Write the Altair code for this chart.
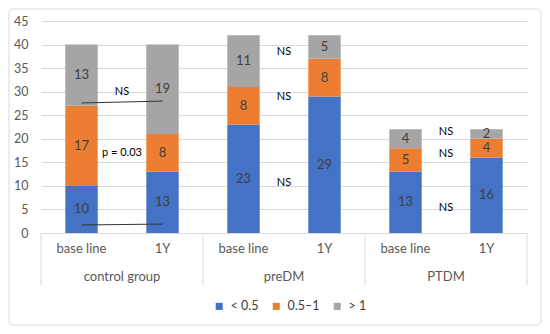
import altair as alt
import pandas as pd

groups = ["control group", "control group", "preDM", "preDM", "PTDM", "PTDM"]
times = ["base line", "1Y", "base line", "1Y", "base line", "1Y"]
lt05 = [10, 13, 23, 29, 13, 16]
mid = [17, 8, 8, 8, 5, 4]
gt1 = [13, 19, 11, 5, 4, 2]
cats = ["< 0.5", "0.5–1", "> 1"]
colors = ["#4472C4", "#ED7D31", "#A5A5A5"]
y_ticks = [0, 5, 10, 15, 20, 25, 30, 35, 40, 45]

# annotations
ann_group = ["control group", "control group", "preDM", "preDM", "preDM", "PTDM", "PTDM", "PTDM"]
ann_y = [29.9, 17.0, 38.4, 28.9, 10.6, 21.4, 16.8, 5.3]
ann_label = ["NS", "p = 0.03", "NS", "NS", "NS", "NS", "NS", "NS"]
line_id = [1, 1, 2, 2]
line_time = ["base line", "1Y", "base line", "1Y"]
line_y = [27.6, 28.0, 1.7, 1.9]
group_names = ["control group", "preDM", "PTDM"]

keys = [f"{g}|{t}" for g, t in zip(groups, times)]
rows = []
for i, k in enumerate(keys):
    for j, (c, vals) in enumerate(zip(cats, [lt05, mid, gt1])):
        rows.append(dict(key=k, cat=c, order=j, value=vals[i]))
df = pd.DataFrame(rows)

ann_df = pd.DataFrame({"key": [f"{g}|base line" for g in ann_group], "y": ann_y, "label": ann_label})
line_df = pd.DataFrame({"key": [f"control group|{t}" for t in line_time], "y": line_y, "id": line_id})
grp_df = pd.DataFrame({"key": [f"{g}|base line" for g in group_names], "label": group_names})
sep_df = pd.DataFrame({"key": [f"{g}|base line" for g in group_names]})
end_df = pd.DataFrame({"key": [keys[-1]]})

W, H = 486, 212
FONT = "Lato"
xscale = alt.Scale(domain=keys, paddingInner=0, paddingOuter=0)
yscale = alt.Scale(domain=[0, 45], nice=False)

xaxis = alt.Axis(title=None, labelExpr="split(datum.label,'|')[1]", labelAngle=0, ticks=False,
                 domainColor="#d9d9d9", labelFontSize=13, labelColor="#595959", labelPadding=9)
yaxis = alt.Axis(title=None, values=y_ticks, ticks=False, domain=False, labelOverlap=False,
                 gridColor="#d9d9d9", labelPadding=13, labelFontSize=12.5, labelColor="#595959")


def X(field, **kw):
    return alt.X(field, scale=xscale, sort=keys, axis=xaxis, **kw)


def Y(field):
    return alt.Y(field, scale=yscale, axis=yaxis)


bars = alt.Chart(df).mark_bar(width=alt.RelativeBandSize(0.4)).encode(
    x=X("key:N"),
    y=alt.Y("value:Q", stack="zero", scale=yscale, axis=yaxis),
    color=alt.Color("cat:N", scale=alt.Scale(domain=cats, range=colors), sort=cats, title=None,
                    legend=alt.Legend(orient="none", legendX=172, legendY=279, direction="horizontal",
                                      symbolType="square", symbolSize=50, labelFontSize=12.5,
                                      labelColor="#404040", columnPadding=11, labelOffset=5,
                                      symbolStrokeWidth=0)),
    order=alt.Order("order:Q", sort="ascending"),
)

labels = alt.Chart(df).transform_stack(
    stack="value", groupby=["key"], as_=["v0", "v1"], sort=[alt.SortField("order", order="ascending")]
).transform_calculate(mid="(datum.v0+datum.v1)/2").mark_text(
    fontSize=13, color="#404040"
).encode(
    x=X("key:N"),
    y=Y("mid:Q"),
    text="value:Q",
)

ann = alt.Chart(ann_df).mark_text(fontSize=11, color="#000000").encode(
    x=X("key:N", bandPosition=1),
    y=Y("y:Q"),
    text="label:N",
)

lines = alt.Chart(line_df).mark_line(color="#333333", strokeWidth=1).encode(
    x=X("key:N"),
    y=Y("y:Q"),
    detail="id:N",
)

grp = alt.Chart(grp_df).mark_text(fontSize=13, color="#595959").encode(
    x=X("key:N", bandPosition=1),
    y=alt.value(H + 44),
    text="label:N",
)

sep = alt.Chart(sep_df).mark_rule(color="#d9d9d9").encode(
    x=X("key:N", bandPosition=0),
    y=alt.value(H), y2=alt.value(H + 52),
)
sep_end = alt.Chart(end_df).mark_rule(color="#d9d9d9").encode(
    x=X("key:N", bandPosition=1),
    y=alt.value(H), y2=alt.value(H + 52),
)

border = alt.Chart(pd.DataFrame({"a": [0]})).mark_rect(
    fill=None, stroke="#d9d9d9", strokeWidth=1, cornerRadius=4
).encode(
    x=alt.value(-32), x2=alt.value(500), y=alt.value(-12), y2=alt.value(304),
)

chart = alt.layer(border, bars, labels, lines, ann, sep, sep_end, grp).properties(
    width=W, height=H,
    autosize=alt.AutoSizeParams(type="none"),
    padding={"left": 33, "top": 13, "right": 15, "bottom": 93},
).configure(font=FONT).configure_view(stroke=None)

chart.save("out.html", embed_options={"renderer": "svg", "actions": False})
